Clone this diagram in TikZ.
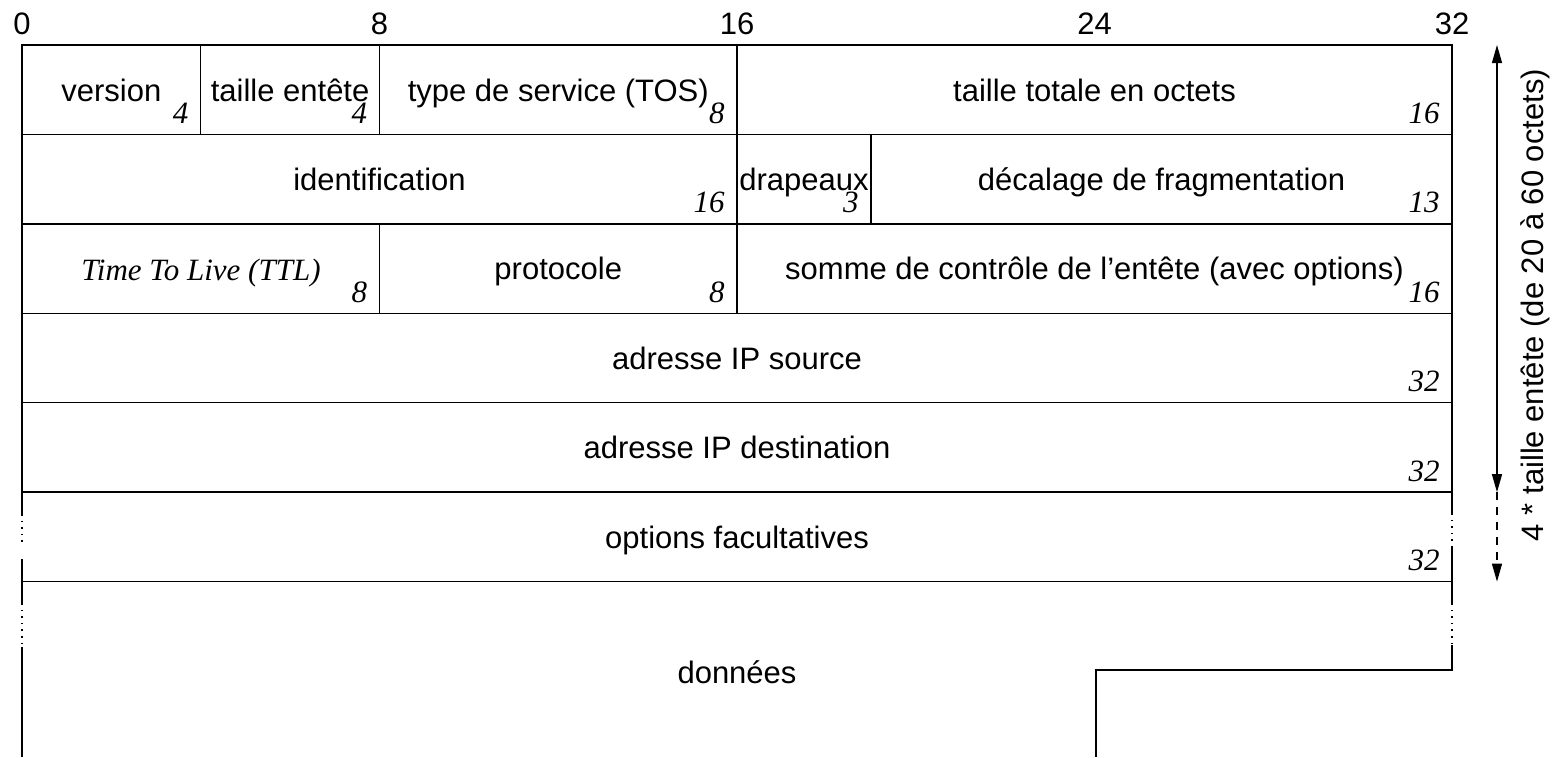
\documentclass[tikz,border=0pt]{standalone}
\usepackage{fontspec}
\setmainfont{Liberation Sans}
\newfontfamily\numserif{Liberation Serif}
\usetikzlibrary{arrows.meta,calc}

% one header field: name, first bit, last bit, row, label, size in bits
\newcommand\ipfield[6]{%
  \pgfmathsetmacro\fxa{22+#2*44.6875}%
  \pgfmathsetmacro\fxb{22+#3*44.6875}%
  \pgfmathsetmacro\fya{45+#4*89.43}%
  \pgfmathsetmacro\fyb{\fya+89.43}%
  \draw[grid] (\fxa,\fya) rectangle (\fxb,\fyb);
  \node[lab] (#1) at ({(\fxa+\fxb)/2},{\fya+56}) {#5};
  \node[num] (#1-bits) at ({\fxb-12},{\fyb-11}) {#6};
}

\begin{document}
\begin{tikzpicture}[x=0.5pt,y=-0.5pt,
  grid/.style={line width=0.7pt, black},
  dotline/.style={line width=0.7pt, black, dash pattern=on 0.8pt off 2.5pt},
  lab/.style={anchor=base, inner sep=0pt, font=\fontsize{15.5}{18}\selectfont},
  num/.style={anchor=base east, inner sep=0pt, font=\fontsize{15.5}{18}\selectfont\numserif\itshape},
  ttl/.style={lab, font=\fontsize{15.5}{18}\selectfont\numserif\itshape},
  lenarrow/.style={line width=0.6pt, black},
  hdrtip/.tip={Triangle[length=9pt,width=5pt]}]
\useasboundingbox (0,0) rectangle (1554,757);

% bit scale
\foreach \b/\n in {0/s0,8/s8,16/s16,24/s24,32/s32}
  \node[lab] (\n) at ({22+\b*44.6875},34) {\b};

% fixed part of the header
\ipfield{version}{0}{4}{0}{version}{4}
\ipfield{ihl}{4}{8}{0}{taille entête}{4}
\ipfield{tos}{8}{16}{0}{type de service (TOS)}{8}
\ipfield{totlen}{16}{32}{0}{taille totale en octets}{16}
\ipfield{ident}{0}{16}{1}{identification}{16}
\ipfield{flags}{16}{19}{1}{drapeaux}{3}
\ipfield{fragoff}{19}{32}{1}{décalage de fragmentation}{13}
\ipfield{ttlf}{0}{8}{2}{}{8}
\node[ttl] (ttl) at (201,280) {Time To Live (TTL)};
\ipfield{proto}{8}{16}{2}{protocole}{8}
\ipfield{cksum}{16}{32}{2}{somme de contrôle de l’entête (avec options)}{16}
\ipfield{src}{0}{32}{3}{adresse IP source}{32}
\ipfield{dst}{0}{32}{4}{adresse IP destination}{32}

% optional part
\draw[grid] (22,581.6) -- (1452,581.6);
\draw[grid] (22,492.2) -- (22,514);
\draw[dotline] (22,514) -- (22,546);
\draw[grid] (22,559) -- (22,581.6);
\draw[grid] (1452,492.2) -- (1452,513);
\draw[dotline] (1452,513) -- (1452,548);
\draw[grid] (1452,548) -- (1452,581.6);
\node[lab] (opts) at (737,548.2) {options facultatives};
\node[num] (opts-bits) at (1440,570.6) {32};

% payload
\draw[grid] (22,581.6) -- (22,603);
\draw[dotline] (22,603) -- (22,643);
\draw[grid] (22,647) -- (22,757);
\draw[grid] (1452,581.6) -- (1452,603);
\draw[dotline] (1452,603) -- (1452,645);
\draw[grid] (1452,645) -- (1452,670) -- (1096,670) -- (1096,757);
\node[lab] (data) at (737,683) {données};

% header length
\coordinate (hTop) at (1497,45);
\coordinate (hFix) at (1497,492.2);
\coordinate (hMax) at (1497,581.6);
\draw[lenarrow, hdrtip-hdrtip] (hTop) -- (hFix);
\draw[lenarrow, dash pattern=on 4pt off 3.5pt, -hdrtip] (hFix) -- (hMax);
\node[lab, rotate=90] (hlen) at (1543,305) {4 * taille entête (de 20 à 60 octets)};
\end{tikzpicture}
\end{document}
